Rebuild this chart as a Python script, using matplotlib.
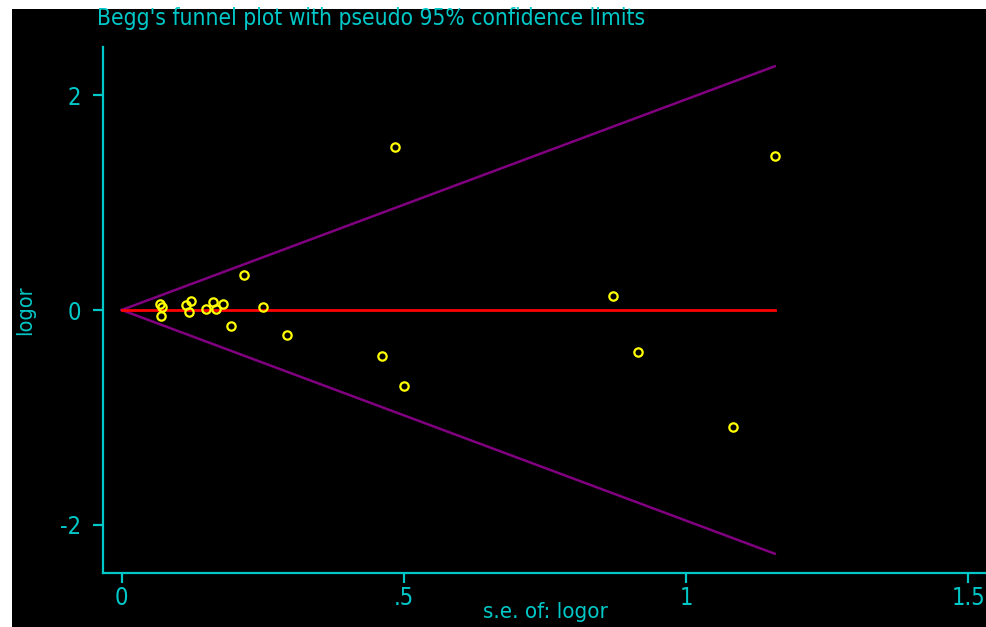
import numpy as np
import matplotlib.pyplot as plt
from matplotlib.patches import Rectangle

# study data: standard error and log odds ratio
se = [0.484, 1.157, 0.217, 0.871, 0.914, 0.461, 0.500, 1.083, 0.293, 0.194, 0.251,
      0.068, 0.071, 0.069, 0.114, 0.123, 0.119, 0.149, 0.161, 0.168, 0.180]
logor = [1.516, 1.433, 0.326, 0.130, -0.391, -0.428, -0.707, -1.088, -0.233, -0.149, 0.028,
         0.056, 0.031, -0.056, 0.047, 0.087, -0.016, 0.009, 0.072, 0.007, 0.053]
pooled = 0.0

xticks = [0, 0.5, 1, 1.5]
xticklabels = ['0', '.5', '1', '1.5']
yticks = [-2, 0, 2]
yticklabels = ['-2', '0', '2']

cyan = '#00c8c8'
font = ['DejaVu Sans']

fig = plt.figure(figsize=(9.87, 6.27), dpi=100, facecolor='white')
# black graph region behind the axes
fig.patches.append(Rectangle((12 / 987, 0), 1 - 12 / 987, 1 - 9 / 627,
                             transform=fig.transFigure, facecolor='black',
                             edgecolor='none', zorder=-10))

ax = fig.add_axes([103 / 987, 54 / 627, 1 - 103 / 987, 526 / 627])
ax.set_facecolor('none')
ax.set_zorder(5)

# funnel limits
smax = max(se)
s = np.array([0, smax])
ax.plot(s, pooled + 1.96 * s, color='#800080', lw=1.8)
ax.plot(s, pooled - 1.96 * s, color='#800080', lw=1.8)
ax.plot(s, [pooled, pooled], color='#ff0000', lw=2)

ax.plot(se, logor, 'o', mfc='none', mec='#ffff00', mew=1.6, ms=6)

ax.set_xlim(-0.033, 1.533)
ax.set_ylim(-2.447, 2.447)
ax.set_xticks(xticks)
ax.set_xticklabels(xticklabels)
ax.set_yticks(yticks)
ax.set_yticklabels(yticklabels)

for side in ['top', 'right']:
    ax.spines[side].set_visible(False)
for side in ['left', 'bottom']:
    ax.spines[side].set_color(cyan)
    ax.spines[side].set_linewidth(1.6)
ax.tick_params(colors=cyan, length=7.5, width=1.6, labelsize=17)
ax.tick_params(axis='y', pad=8)
ax.tick_params(axis='x', pad=2)
for lab in ax.get_xticklabels() + ax.get_yticklabels():
    lab.set_family(font)
    lab.set_stretch('condensed')

ax.set_xlabel('s.e. of: logor', color=cyan, fontsize=16, family=font,
              fontstretch='condensed', labelpad=-6)
ax.set_ylabel('logor', color=cyan, fontsize=15.5, family=font,
              fontstretch='condensed', labelpad=18)

fig.text(97 / 987, 1 - 18 / 627, "Begg's funnel plot with pseudo 95% confidence limits",
         color=cyan, fontsize=16.3, family=font, fontstretch='condensed',
         va='center', ha='left')

fig.savefig('out.png', dpi=100, facecolor=fig.get_facecolor())
